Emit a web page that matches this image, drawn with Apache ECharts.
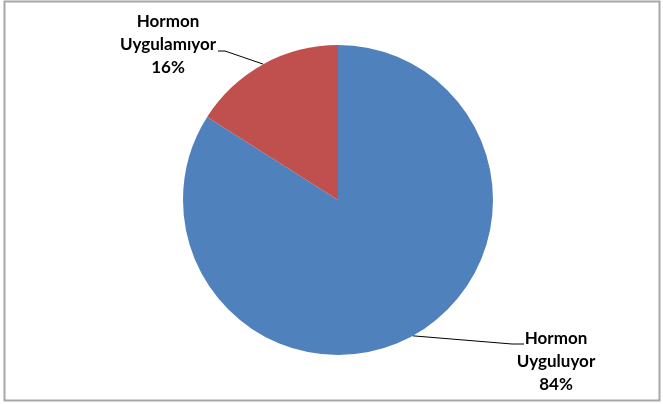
<!DOCTYPE html>
<html>
<head>
<meta charset="utf-8">
<script src="https://cdn.jsdelivr.net/npm/echarts@6/dist/echarts.min.js"></script>
<style>
  html, body { margin: 0; padding: 0; background: #fff; }
  #chart { width: 663px; height: 404px; }
</style>
</head>
<body>
<div id="chart"></div>
<script>
// Hormone use breakdown
const categories = ['Hormon Uyguluyor', 'Hormon Uygulamıyor'];
const values = [84, 16];
const colors = ['#4F81BD', '#C0504D'];

// where each label block sits (centre of the text) and the elbow of its leader line
const labelSpots = [
  { x: 556, y: 362, elbow: [512, 344], end: [524, 344] },
  { x: 168, y: 45, elbow: [225, 51], end: [218, 51] }
];

const chart = echarts.init(document.getElementById('chart'), null, { renderer: 'canvas' });

chart.setOption({
  animation: false,
  backgroundColor: '#ffffff',
  graphic: [{
    type: 'rect',
    shape: { x: 4.5, y: 1.5, width: 655, height: 399 },
    style: { fill: 'none', stroke: '#a8a8a8', lineWidth: 2 },
    silent: true
  }],
  series: [{
    type: 'pie',
    center: [338, 200],
    radius: 155,
    startAngle: 90,
    clockwise: true,
    data: categories.map((name, i) => ({
      name: name,
      value: values[i],
      itemStyle: { color: colors[i] }
    })),
    label: {
      show: true,
      position: 'outside',
      fontFamily: 'Lato',
      fontWeight: 'bold',
      fontSize: 17,
      lineHeight: 23,
      color: '#000',
      align: 'center',
      formatter: p => p.name.replace(' ', '\n') + '\n' + Math.round(p.percent) + '%'
    },
    labelLine: {
      show: true,
      length: 20,
      length2: 8,
      lineStyle: { color: '#000', width: 1 }
    },
    labelLayout: function (params) {
      const spot = labelSpots[params.dataIndex];
      const out = { x: spot.x, y: spot.y, align: 'center', verticalAlign: 'middle' };
      if (params.labelLinePoints && params.labelLinePoints.length) {
        out.labelLinePoints = [params.labelLinePoints[0], spot.elbow, spot.end];
      }
      return out;
    }
  }]
});
</script>
</body>
</html>
